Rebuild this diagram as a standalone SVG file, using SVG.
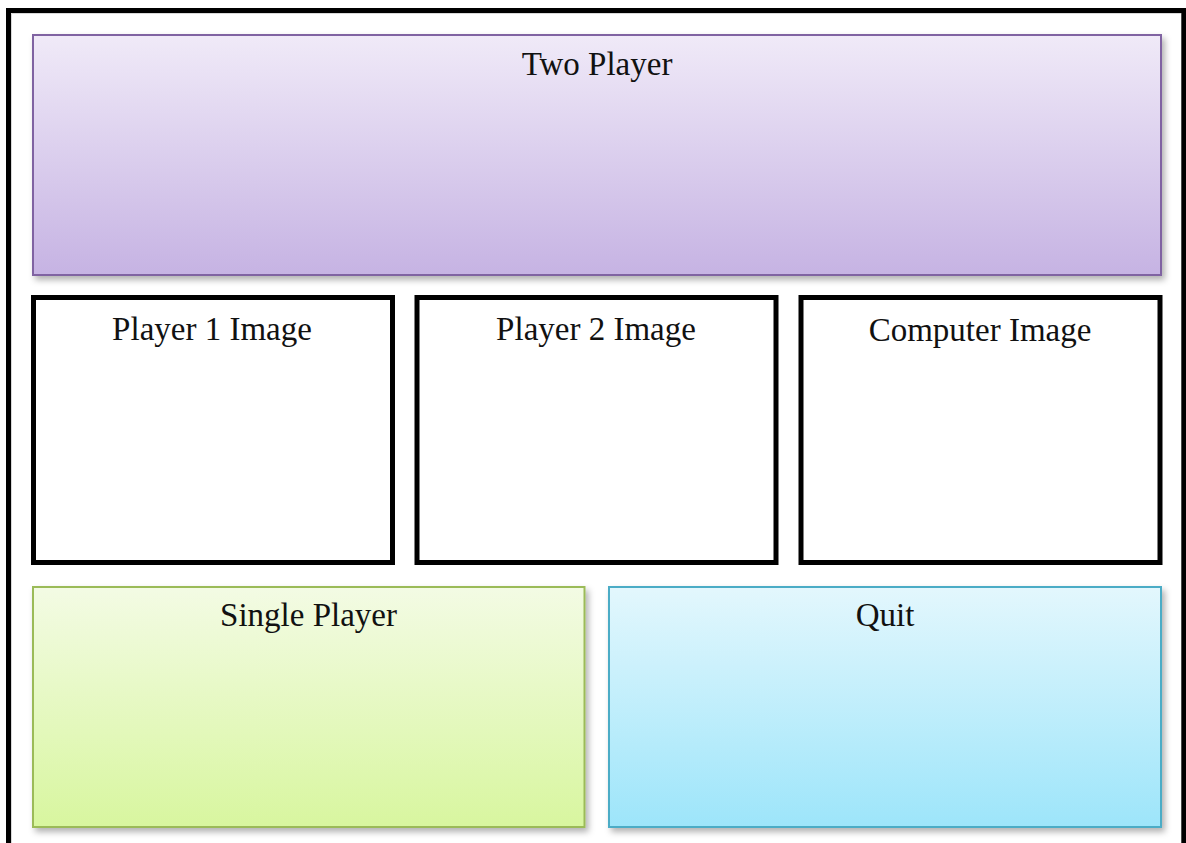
<svg xmlns="http://www.w3.org/2000/svg" width="1186" height="843" viewBox="0 0 1186 843">
  <defs>
    <linearGradient id="gPurple" x1="0" y1="0" x2="0" y2="1">
      <stop offset="0" stop-color="#f0eaf8"/>
      <stop offset="1" stop-color="#c6b3e3"/>
    </linearGradient>
    <linearGradient id="gGreen" x1="0" y1="0" x2="0" y2="1">
      <stop offset="0" stop-color="#f3fbe4"/>
      <stop offset="1" stop-color="#d8f69f"/>
    </linearGradient>
    <linearGradient id="gBlue" x1="0" y1="0" x2="0" y2="1">
      <stop offset="0" stop-color="#e3f7fd"/>
      <stop offset="1" stop-color="#9de5fa"/>
    </linearGradient>
    <filter id="shadow" x="-5%" y="-5%" width="115%" height="120%">
      <feDropShadow dx="3" dy="4" stdDeviation="3" flood-color="#000" flood-opacity="0.3"/>
    </filter>
  </defs>
  <style>
    .label { font-family: "Liberation Serif", "DejaVu Serif", serif; font-size: 33px; fill: #111; text-anchor: middle; }
    .btn { stroke-width: 2; filter: url(#shadow); }
    .pane { fill: #fff; stroke: #000; stroke-width: 5; }
  </style>

  <rect width="1186" height="843" fill="#fff"/>

  <!-- outer frame, open at the bottom -->
  <g id="frame" fill="none">
    <path d="M8.5,843 V10.5 H1183.8 V843" stroke="#000" stroke-width="5"/>
    <path d="M11.5,843 V13.5 H1181" stroke="#d8d8d8" stroke-width="1"/>
  </g>

  <g id="two-player">
    <rect class="btn" x="33" y="35" width="1128" height="240" fill="url(#gPurple)" stroke="#8064a2"/>
    <text class="label" x="597" y="75">Two Player</text>
  </g>

  <g id="player1-image">
    <rect class="pane" x="33.5" y="297.5" width="359" height="265"/>
    <text class="label" x="212" y="340">Player 1 Image</text>
  </g>

  <g id="player2-image">
    <rect class="pane" x="417" y="297.5" width="359" height="265"/>
    <text class="label" x="596" y="340">Player 2 Image</text>
  </g>

  <g id="computer-image">
    <rect class="pane" x="801" y="297.5" width="359" height="265"/>
    <text class="label" x="980" y="341">Computer Image</text>
  </g>

  <g id="single-player">
    <rect class="btn" x="33" y="587" width="551.5" height="240" fill="url(#gGreen)" stroke="#9bbb59"/>
    <text class="label" x="308.5" y="626">Single Player</text>
  </g>

  <g id="quit">
    <rect class="btn" x="609" y="587" width="552" height="240" fill="url(#gBlue)" stroke="#4bacc6"/>
    <text class="label" x="885" y="626">Quit</text>
  </g>

  <g id="connectors"/>
</svg>
